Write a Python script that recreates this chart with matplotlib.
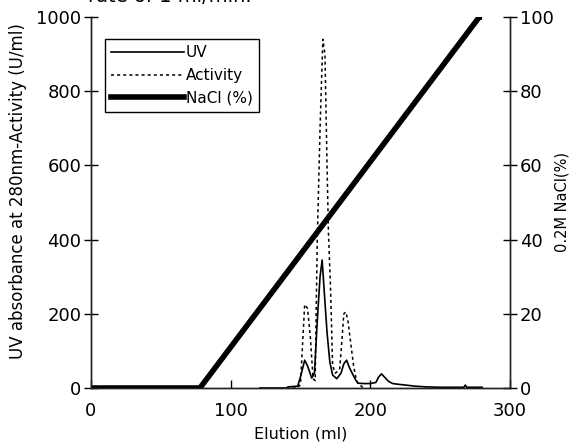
import matplotlib
matplotlib.use("Agg")
import matplotlib.pyplot as plt
from matplotlib.lines import Line2D

plt.rcParams['font.family'] = ['DejaVu Sans']

# ---- data ----
uv_x = [121, 140, 141, 148, 150, 153, 155, 158, 160, 162, 164, 165.5, 167, 169, 171, 173,
        176, 179, 181, 183, 185, 187, 189, 191, 195, 200, 204, 206, 208, 210, 213, 216,
        220, 225, 232, 240, 250, 260, 267, 268, 269, 280]
uv_y = [0, 0, 3, 5, 30, 75, 60, 27, 40, 180, 300, 345, 260, 150, 70, 35,
        25, 40, 65, 75, 55, 40, 25, 13, 12, 12, 15, 30, 38, 30, 18, 12,
        10, 8, 5, 3, 2, 2, 2, 8, 2, 2]

act_x = [140, 148, 150, 151.5, 153, 155, 157, 159, 160.5, 162, 164, 166, 167.5, 169, 170,
         171.5, 173, 175, 178, 179.5, 181, 182.5, 184, 186, 188, 190, 192, 195]
act_y = [0, 0, 10, 120, 225, 215, 140, 25, 20, 400, 700, 940, 900, 600, 420,
         270, 60, 40, 50, 120, 200, 205, 180, 120, 60, 20, 10, 0]

nacl_x = [0, 78, 278, 280]
nacl_y = [0, 0, 100, 100]

x_ticks = [0, 100, 200, 300]
y_left_ticks = [0, 200, 400, 600, 800, 1000]
y_right_ticks = [0, 20, 40, 60, 80, 100]

# ---- figure ----
fig = plt.figure(figsize=(5.69, 4.48), dpi=100)
ax = fig.add_axes([91/569, 1-388/448, 419/569, 371/448])
ax2 = ax.twinx()

ax.plot(uv_x, uv_y, color='black', lw=1.2, zorder=3)
ax.plot(act_x, act_y, color='black', lw=1.1, linestyle=(0, (2, 2)), zorder=3)
ax2.plot(nacl_x, nacl_y, color='black', lw=4, solid_capstyle='butt')

ax.set_xlim(0, 300)
ax.set_ylim(0, 1000)
ax2.set_ylim(0, 100)
ax.set_xticks(x_ticks)
ax.set_yticks(y_left_ticks)
ax2.set_yticks(y_right_ticks)

for a in (ax, ax2):
    for s in a.spines.values():
        s.set_linewidth(1.0)
        s.set_color('#222222')
ax.spines['top'].set_visible(False)
ax2.spines['top'].set_visible(False)

ax.tick_params(axis='x', direction='in', length=6, width=1, labelsize=13, pad=10)
ax.tick_params(axis='y', direction='inout', length=10, width=1, labelsize=13, pad=2)
ax2.tick_params(axis='y', direction='inout', length=10, width=1, labelsize=13, pad=2)

ax.set_xlabel('Elution (ml)', fontsize=11.5, labelpad=5)
ax.set_ylabel('UV absorbance at 280nm-Activity (U/ml)', fontsize=12)
ax.yaxis.set_label_coords(-0.153, 0.53)
ax2.set_ylabel('0.2M NaCl(%)', fontsize=10.5, labelpad=1)

handles = [Line2D([], [], color='black', lw=1.2),
           Line2D([], [], color='black', lw=1.1, linestyle=(0, (2, 2))),
           Line2D([], [], color='black', lw=4)]
leg = ax2.legend(handles, ['UV', 'Activity', 'NaCl (%)'], loc='upper left',
                 bbox_to_anchor=(0.033, 0.94), fontsize=11, frameon=True,
                 fancybox=False, edgecolor='black', framealpha=1,
                 handlelength=4.8, handletextpad=0.1, borderpad=0.4,
                 labelspacing=0.5, borderaxespad=0)
leg.get_frame().set_linewidth(1.0)

fig.text(88/569, 1 - 2/448, 'rate of 1 ml/min.', fontsize=14, va='baseline', ha='left')

fig.savefig('out.png', dpi=100)
